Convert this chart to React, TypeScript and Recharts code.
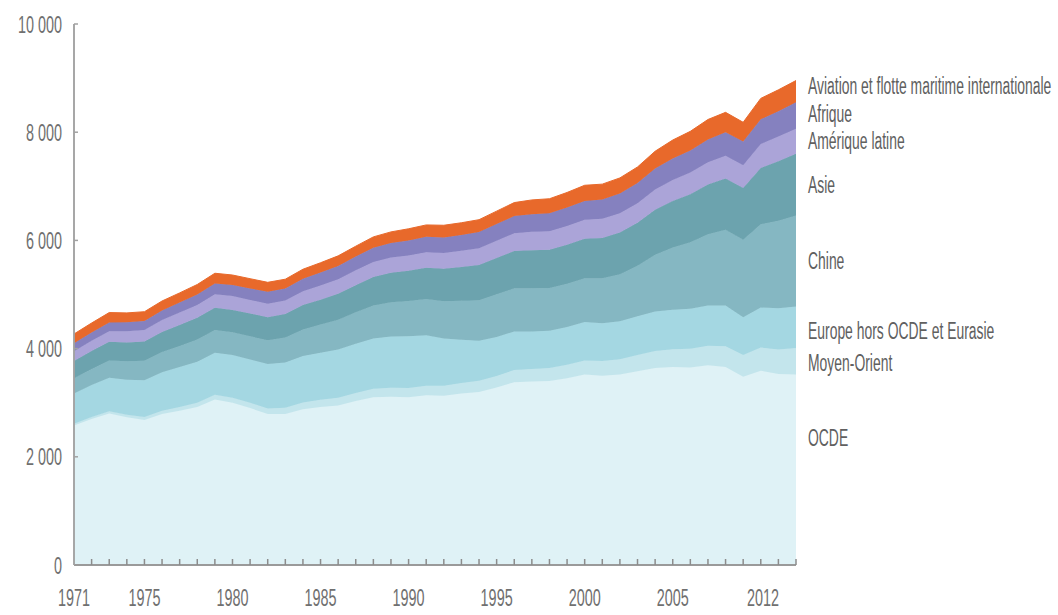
import React from 'react';
import { AreaChart, Area, XAxis, YAxis, ReferenceDot, ReferenceLine } from 'recharts';

const years = [
  1971, 1972, 1973, 1974, 1975, 1976, 1977, 1978, 1979, 1980,
  1981, 1982, 1983, 1984, 1985, 1986, 1987, 1988, 1989, 1990,
  1991, 1992, 1993, 1994, 1995, 1996, 1997, 1998, 1999, 2000,
  2001, 2002, 2003, 2004, 2005, 2006, 2007, 2008, 2009, 2010,
  2011, 2012,
];
const ocde = [2580, 2700, 2800, 2730, 2680, 2790, 2850, 2920, 3060, 3000, 2900, 2790, 2790, 2880, 2920, 2950, 3030, 3100, 3110, 3100, 3140, 3130, 3170, 3200, 3280, 3380, 3390, 3400, 3450, 3520, 3500, 3520, 3580, 3640, 3660, 3650, 3690, 3660, 3480, 3590, 3530, 3520];
const moyenOrient = [30, 35, 40, 45, 55, 62, 70, 78, 85, 90, 98, 105, 115, 125, 135, 142, 150, 158, 165, 170, 175, 185, 195, 205, 215, 225, 235, 240, 250, 260, 270, 285, 300, 315, 330, 345, 365, 385, 400, 430, 455, 490];
const europeEurasie = [560, 590, 620, 650, 680, 710, 740, 760, 780, 790, 800, 820, 840, 860, 870, 890, 910, 930, 950, 960, 930, 870, 800, 740, 720, 710, 690, 690, 700, 710, 700, 700, 720, 730, 730, 740, 740, 750, 700, 740, 760, 770];
const chine = [280, 300, 320, 340, 360, 375, 390, 410, 420, 420, 430, 440, 460, 490, 520, 550, 580, 610, 630, 650, 670, 690, 720, 750, 790, 800, 800, 790, 800, 810, 830, 870, 930, 1050, 1150, 1230, 1320, 1400, 1430, 1540, 1620, 1680];
const asie = [320, 330, 345, 350, 355, 370, 385, 400, 410, 415, 420, 425, 435, 450, 460, 480, 500, 525, 545, 560, 580, 600, 625, 650, 670, 690, 705, 705, 720, 730, 745, 770, 795, 830, 860, 890, 920, 950, 960, 1040, 1100, 1140];
const ameriqueLatine = [180, 188, 196, 205, 212, 220, 230, 240, 250, 255, 252, 250, 248, 255, 262, 270, 278, 280, 282, 282, 288, 292, 298, 308, 318, 328, 340, 345, 348, 352, 355, 358, 362, 375, 385, 398, 410, 420, 418, 440, 455, 465];
const afrique = [150, 155, 160, 165, 170, 178, 185, 192, 198, 205, 212, 220, 225, 232, 240, 247, 255, 262, 270, 278, 283, 288, 293, 300, 308, 316, 323, 330, 338, 347, 355, 362, 375, 388, 400, 408, 420, 432, 440, 460, 468, 490];
const aviation = [170, 175, 185, 175, 170, 175, 180, 185, 190, 185, 180, 175, 170, 175, 180, 185, 190, 200, 205, 215, 220, 225, 225, 230, 240, 250, 265, 270, 280, 290, 285, 290, 295, 320, 340, 355, 370, 370, 355, 385, 395, 400];

const yTicks = [0, 2000, 4000, 6000, 8000, 10000];
const xLabelYears = [1971, 1975, 1980, 1985, 1990, 1995, 2000, 2005, 2012];

const series = [
  { key: 'ocde', name: 'OCDE', values: ocde, color: '#dff2f6', dy: -32 },
  { key: 'mo', name: 'Moyen-Orient', values: moyenOrient, color: '#c3e5ec', dy: 2 },
  { key: 'eur', name: 'Europe hors OCDE et Eurasie', values: europeEurasie, color: '#a4d7e2', dy: 4 },
  { key: 'chn', name: 'Chine', values: chine, color: '#85b7c2', dy: 0 },
  { key: 'asi', name: 'Asie', values: asie, color: '#6ca3ae', dy: 0 },
  { key: 'aml', name: 'Amérique latine', values: ameriqueLatine, color: '#aba4d8', dy: 0 },
  { key: 'afr', name: 'Afrique', values: afrique, color: '#8581bf', dy: -1 },
  { key: 'avi', name: 'Aviation et flotte maritime internationale', values: aviation, color: '#e8692b', dy: -5 },
];

const data = years.map((year, i) => {
  const row: Record<string, number> = { year };
  series.forEach((s) => {
    row[s.key] = s.values[i];
  });
  return row;
});

const lastIndex = years.length - 1;
const labelMids: number[] = (() => {
  let cum = 0;
  return series.map((s) => {
    const bottom = cum;
    cum += s.values[lastIndex];
    return (bottom + cum) / 2;
  });
})();

const AXIS_COLOR = '#a2a2a2';
const X_AXIS_COLOR = '#9a9a9a';

const TXT = {
  fontFamily: "'Liberation Sans', Arial, Helvetica, sans-serif",
  fontSize: 18,
  fill: '#707070',
};

const fmt = (v: number) => String(v).replace(/\B(?=(\d{3})+(?!\d))/g, ' ');

function YTick(props: any) {
  const { x, y, payload } = props;
  return (
    <text
      transform={`translate(${x - 12},${y}) scale(0.8,1.35)`}
      textAnchor="end"
      dominantBaseline="central"
      {...TXT}
    >
      {fmt(payload.value)}
    </text>
  );
}

function XTick(props: any) {
  const { x, y, payload } = props;
  const v = payload.value as number;
  if (!xLabelYears.includes(v)) return <g />;
  const dx = v === 2012 ? -33 : 0;
  return (
    <text
      transform={`translate(${x + dx},${y + 32}) scale(0.8,1.35)`}
      textAnchor="middle"
      dominantBaseline="central"
      {...TXT}
    >
      {v}
    </text>
  );
}

const xTickMark = (p: any) => (
  <line x1={p.cx} x2={p.cx} y1={p.cy} y2={p.cy - 6} stroke="#8c8c8c" strokeWidth={1.5} />
);
const yTickMark = (p: any) => (
  <line x1={p.cx} x2={p.cx + 4} y1={p.cy} y2={p.cy} stroke={AXIS_COLOR} strokeWidth={1.5} />
);

function makeLabelShape(text: string, dy: number) {
  return (p: any) => (
    <text
      transform={`translate(${p.cx + 12},${p.cy + dy}) scale(0.8,1.35)`}
      textAnchor="start"
      dominantBaseline="central"
      fontFamily="'Liberation Sans', Arial, Helvetica, sans-serif"
      fontSize={17.4}
      fill="#606060"
    >
      {text}
    </text>
  );
}

export default function App() {
  return (
    <div style={{ position: 'absolute', left: 0, top: 0, width: 1058, height: 615, background: '#fff' }}>
      <AreaChart
        width={1058}
        height={615}
        data={data}
        margin={{ top: 24, right: 262, bottom: 20, left: 0 }}
      >
        {series.map((s) => (
          <Area
            key={s.key}
            dataKey={s.key}
            name={s.name}
            stackId="1"
            type="linear"
            fill={s.color}
            fillOpacity={1}
            stroke={s.color}
            strokeWidth={1}
            dot={false}
            activeDot={false}
            isAnimationActive={false}
          />
        ))}
        <XAxis
          dataKey="year"
          type="number"
          domain={[1971, 2012]}
          ticks={years}
          interval={0}
          height={30}
          tickSize={0}
          tickMargin={0}
          tickLine={false}
          tick={<XTick />}
          axisLine={{ stroke: X_AXIS_COLOR, strokeWidth: 2 }}
        />
        <YAxis
          type="number"
          domain={[0, 10000]}
          ticks={yTicks}
          interval={0}
          width={74}
          tickSize={0}
          tickMargin={0}
          tickLine={false}
          tick={<YTick />}
          axisLine={{ stroke: AXIS_COLOR, strokeWidth: 1.5 }}
        />
        <ReferenceLine x={years[0]} stroke={AXIS_COLOR} strokeWidth={1.5} ifOverflow="visible" />
        <ReferenceLine y={0} stroke={X_AXIS_COLOR} strokeWidth={2} ifOverflow="visible" />
        {years.slice(1).map((yr) => (
          <ReferenceDot key={'xt-' + yr} x={yr} y={0} r={0} ifOverflow="visible" shape={xTickMark} />
        ))}
        {yTicks.slice(1).map((t) => (
          <ReferenceDot key={'yt-' + t} x={years[0]} y={t} r={0} ifOverflow="visible" shape={yTickMark} />
        ))}
        {series.map((s, i) => (
          <ReferenceDot
            key={'lbl-' + s.key}
            x={years[lastIndex]}
            y={labelMids[i]}
            r={0}
            ifOverflow="visible"
            shape={makeLabelShape(s.name, s.dy)}
          />
        ))}
      </AreaChart>
    </div>
  );
}
